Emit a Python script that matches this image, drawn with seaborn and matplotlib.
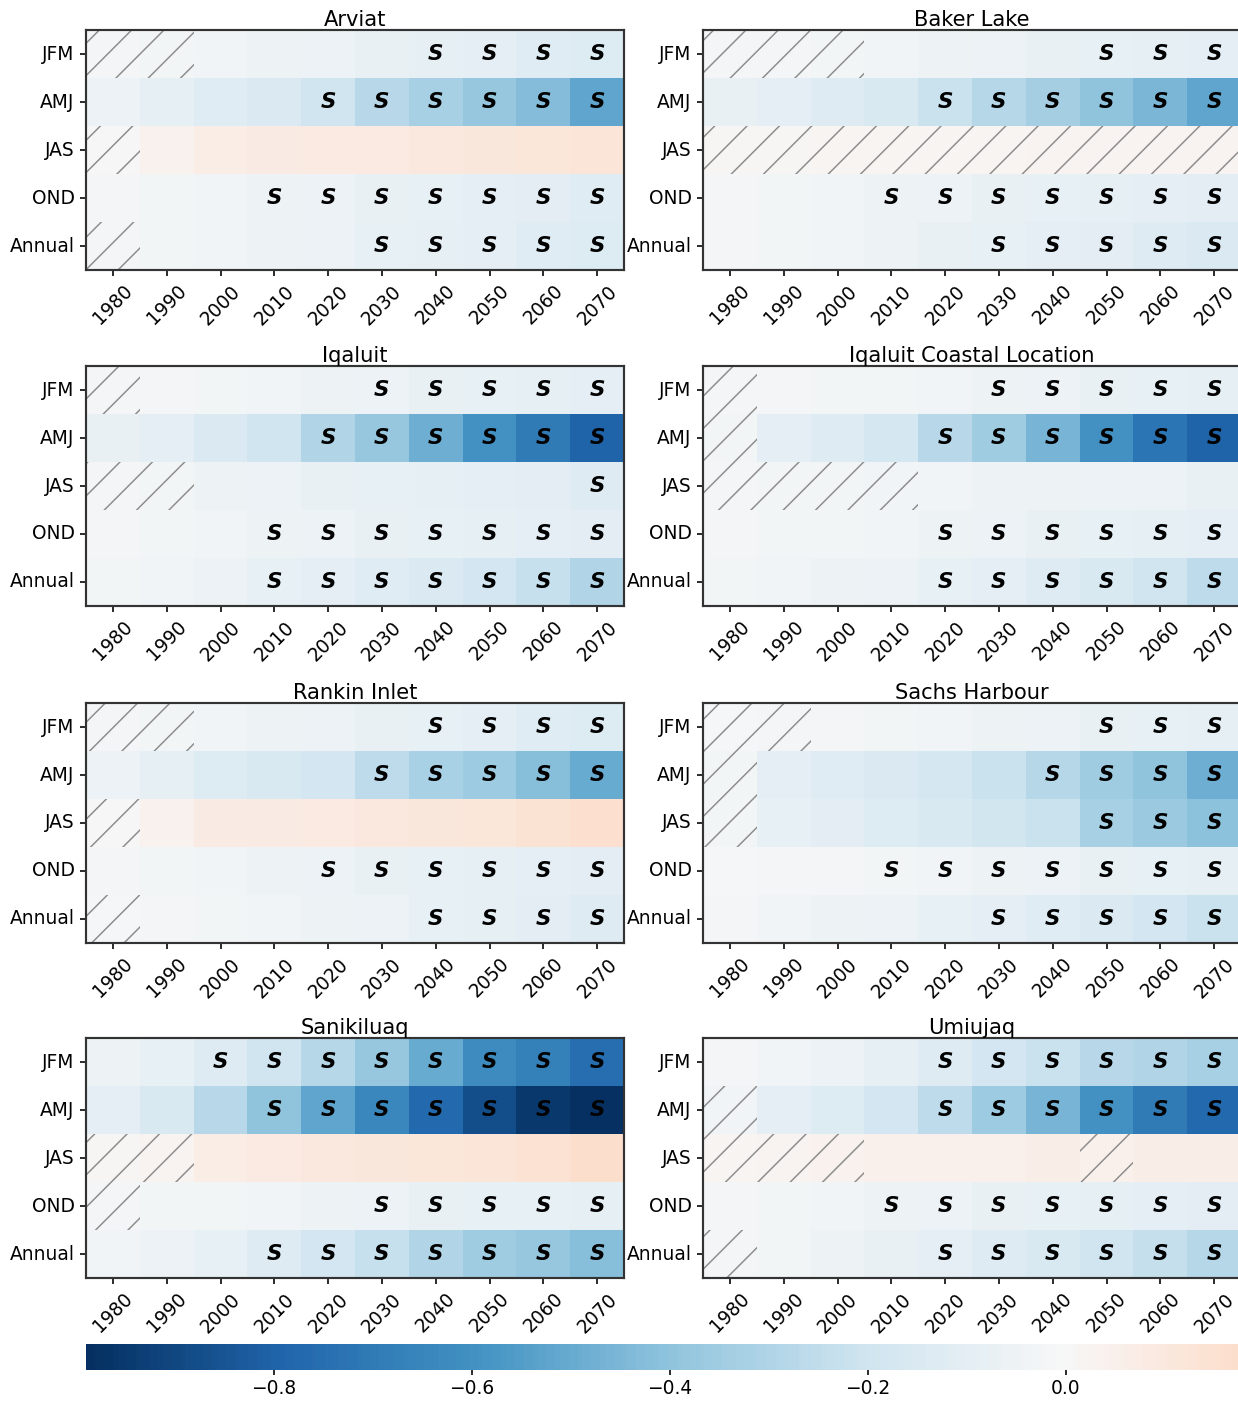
import numpy as np
import pandas as pd
import matplotlib
matplotlib.use("Agg")
import matplotlib.pyplot as plt
import seaborn as sns
from matplotlib.patches import Rectangle

years = [1980, 1990, 2000, 2010, 2020, 2030, 2040, 2050, 2060, 2070]
seasons = ["JFM", "AMJ", "JAS", "OND", "Annual"]
stations = ["Arviat", "Baker Lake", "Iqaluit", "Iqaluit Coastal Location",
            "Rankin Inlet", "Sachs Harbour", "Sanikiluaq", "Umiujaq"]

# trend values, rows = seasons, columns = decades
arviat = [
    [-0.02, -0.03, -0.04, -0.05, -0.06, -0.07, -0.09, -0.10, -0.12, -0.14],
    [-0.06, -0.09, -0.12, -0.15, -0.20, -0.27, -0.33, -0.38, -0.43, -0.52],
    [0.00, 0.04, 0.07, 0.08, 0.09, 0.09, 0.10, 0.11, 0.12, 0.13],
    [-0.02, -0.03, -0.04, -0.05, -0.06, -0.07, -0.08, -0.10, -0.11, -0.12],
    [-0.02, -0.03, -0.04, -0.05, -0.06, -0.08, -0.09, -0.10, -0.12, -0.14],
]
baker_lake = [
    [-0.02, -0.02, -0.03, -0.04, -0.05, -0.06, -0.07, -0.08, -0.09, -0.10],
    [-0.07, -0.10, -0.13, -0.16, -0.22, -0.28, -0.34, -0.40, -0.45, -0.52],
    [0.01, 0.01, 0.02, 0.02, 0.02, 0.02, 0.03, 0.03, 0.03, 0.03],
    [-0.02, -0.03, -0.04, -0.05, -0.06, -0.07, -0.08, -0.09, -0.10, -0.11],
    [-0.02, -0.03, -0.04, -0.05, -0.07, -0.08, -0.10, -0.11, -0.13, -0.15],
]
iqaluit = [
    [-0.02, -0.02, -0.03, -0.04, -0.05, -0.06, -0.07, -0.08, -0.09, -0.10],
    [-0.07, -0.10, -0.15, -0.20, -0.30, -0.38, -0.48, -0.60, -0.70, -0.80],
    [-0.02, -0.03, -0.05, -0.06, -0.07, -0.08, -0.09, -0.10, -0.11, -0.13],
    [-0.02, -0.03, -0.04, -0.05, -0.06, -0.07, -0.08, -0.09, -0.10, -0.11],
    [-0.03, -0.04, -0.06, -0.08, -0.10, -0.12, -0.15, -0.18, -0.23, -0.30],
]
iqaluit_coast = [
    [-0.02, -0.02, -0.03, -0.03, -0.04, -0.05, -0.06, -0.07, -0.08, -0.09],
    [-0.03, -0.10, -0.13, -0.17, -0.27, -0.35, -0.46, -0.60, -0.72, -0.80],
    [-0.02, -0.03, -0.03, -0.04, -0.04, -0.05, -0.05, -0.06, -0.06, -0.07],
    [-0.02, -0.03, -0.03, -0.04, -0.05, -0.06, -0.07, -0.08, -0.09, -0.10],
    [-0.03, -0.04, -0.05, -0.06, -0.08, -0.10, -0.13, -0.16, -0.20, -0.26],
]
rankin_inlet = [
    [-0.02, -0.03, -0.04, -0.05, -0.06, -0.07, -0.08, -0.10, -0.12, -0.14],
    [-0.06, -0.09, -0.14, -0.16, -0.18, -0.26, -0.32, -0.36, -0.42, -0.50],
    [0.00, 0.04, 0.08, 0.08, 0.09, 0.10, 0.11, 0.12, 0.14, 0.16],
    [-0.02, -0.03, -0.04, -0.05, -0.06, -0.07, -0.08, -0.09, -0.10, -0.11],
    [-0.01, -0.02, -0.03, -0.04, -0.05, -0.06, -0.08, -0.09, -0.11, -0.13],
]
sachs_harbour = [
    [-0.01, -0.02, -0.02, -0.03, -0.04, -0.05, -0.06, -0.07, -0.08, -0.09],
    [-0.03, -0.10, -0.12, -0.15, -0.17, -0.22, -0.28, -0.35, -0.40, -0.48],
    [-0.03, -0.08, -0.11, -0.14, -0.16, -0.19, -0.22, -0.33, -0.37, -0.41],
    [-0.01, -0.02, -0.02, -0.03, -0.04, -0.05, -0.06, -0.07, -0.08, -0.09],
    [-0.02, -0.04, -0.05, -0.06, -0.08, -0.10, -0.12, -0.15, -0.18, -0.22],
]
sanikiluaq = [
    [-0.05, -0.08, -0.13, -0.20, -0.28, -0.38, -0.50, -0.62, -0.68, -0.75],
    [-0.10, -0.16, -0.27, -0.40, -0.52, -0.64, -0.78, -0.88, -0.95, -0.99],
    [0.01, 0.03, 0.07, 0.09, 0.10, 0.11, 0.12, 0.13, 0.15, 0.177],
    [-0.02, -0.03, -0.03, -0.04, -0.05, -0.06, -0.07, -0.08, -0.08, -0.09],
    [-0.04, -0.06, -0.08, -0.13, -0.18, -0.23, -0.30, -0.35, -0.38, -0.42],
]
umiujaq = [
    [-0.02, -0.04, -0.06, -0.09, -0.13, -0.18, -0.22, -0.27, -0.30, -0.33],
    [-0.04, -0.10, -0.14, -0.18, -0.26, -0.36, -0.46, -0.60, -0.70, -0.78],
    [0.02, 0.03, 0.04, 0.05, 0.05, 0.05, 0.06, 0.05, 0.06, 0.06],
    [-0.02, -0.03, -0.04, -0.05, -0.06, -0.07, -0.08, -0.09, -0.10, -0.11],
    [-0.02, -0.03, -0.05, -0.07, -0.10, -0.13, -0.16, -0.20, -0.24, -0.28],
]

# first decade marked significant ("S") per season, None = never
arviat_sig = [2040, 2020, None, 2010, 2030]
baker_lake_sig = [2050, 2020, None, 2010, 2030]
iqaluit_sig = [2030, 2020, 2070, 2010, 2010]
iqaluit_coast_sig = [2030, 2020, None, 2020, 2020]
rankin_inlet_sig = [2040, 2030, None, 2020, 2040]
sachs_harbour_sig = [2050, 2040, 2050, 2010, 2030]
sanikiluaq_sig = [2000, 2010, None, 2030, 2010]
umiujaq_sig = [2020, 2020, None, 2010, 2020]

# hatched decades per season
arviat_hatch = [[1980, 1990], [], [1980], [], [1980]]
baker_lake_hatch = [[1980, 1990, 2000], [], years, [], []]
iqaluit_hatch = [[1980], [], [1980, 1990], [], []]
iqaluit_coast_hatch = [[1980], [1980], [1980, 1990, 2000, 2010], [], []]
rankin_inlet_hatch = [[1980, 1990], [], [1980], [], [1980]]
sachs_harbour_hatch = [[1980, 1990], [1980], [1980], [], []]
sanikiluaq_hatch = [[], [], [1980, 1990], [1980], []]
umiujaq_hatch = [[], [1980], [1980, 1990, 2000, 2050], [], [1980]]

values = [arviat, baker_lake, iqaluit, iqaluit_coast,
          rankin_inlet, sachs_harbour, sanikiluaq, umiujaq]
sigs = [arviat_sig, baker_lake_sig, iqaluit_sig, iqaluit_coast_sig,
        rankin_inlet_sig, sachs_harbour_sig, sanikiluaq_sig, umiujaq_sig]
hatches = [arviat_hatch, baker_lake_hatch, iqaluit_hatch, iqaluit_coast_hatch,
           rankin_inlet_hatch, sachs_harbour_hatch, sanikiluaq_hatch, umiujaq_hatch]

plt.rcParams["font.family"] = ["DejaVu Sans"]
plt.rcParams["font.size"] = 6.9
plt.rcParams["hatch.linewidth"] = 0.55

W, H, DPI = 1238, 1401, 194
fig = plt.figure(figsize=(W / DPI, H / DPI), dpi=DPI)

vmin = min(np.min(v) for v in values)
vmax = max(np.max(v) for v in values)

lefts = [86, 703]
tops = [30, 366, 703, 1038]
aw, ah = 538, 240
cax = fig.add_axes([86 / W, 1 - 1370 / H, 1155 / W, 26 / H])

for k, name in enumerate(stations):
    r, c = divmod(k, 2)
    ax = fig.add_axes([lefts[c] / W, 1 - (tops[r] + ah) / H, aw / W, ah / H])
    df = pd.DataFrame(values[k], index=seasons, columns=years)
    labels = np.full(df.shape, "", dtype=object)
    for i, first in enumerate(sigs[k]):
        if first is not None:
            for j, y in enumerate(years):
                if y >= first:
                    labels[i, j] = "S"
    sns.heatmap(df, ax=ax, cmap="RdBu_r", center=0, vmin=vmin, vmax=vmax,
                annot=labels, fmt="",
                annot_kws={"color": "black", "fontsize": 8,
                           "fontweight": "bold", "fontstyle": "italic"},
                cbar=(k == 0), cbar_ax=cax if k == 0 else None,
                cbar_kws={"orientation": "horizontal",
                          "ticks": [-0.8, -0.6, -0.4, -0.2, 0.0]})
    for i, hyears in enumerate(hatches[k]):
        for y in hyears:
            j = years.index(y)
            ax.add_patch(Rectangle((j, i), 1, 1, fill=False, hatch="//",
                                   edgecolor="#8c8c8c", linewidth=0))
    for sp in ax.spines.values():
        sp.set_visible(True)
        sp.set_color("#333333")
        sp.set_linewidth(0.8)
    ax.set_xticklabels(years, rotation=45)
    ax.set_yticklabels(seasons, rotation=0)
    ax.tick_params(length=2.2, width=0.6, pad=2)
    ax.set_xlabel("")
    ax.set_ylabel("")
    ax.set_title(name, fontsize=7.8, pad=1.5)

cax.tick_params(length=2, width=0.6, pad=1.5)
cax.set_xticklabels(["\u22120.8", "\u22120.6", "\u22120.4", "\u22120.2", "0.0"])

fig.savefig("out.png", dpi=DPI)
